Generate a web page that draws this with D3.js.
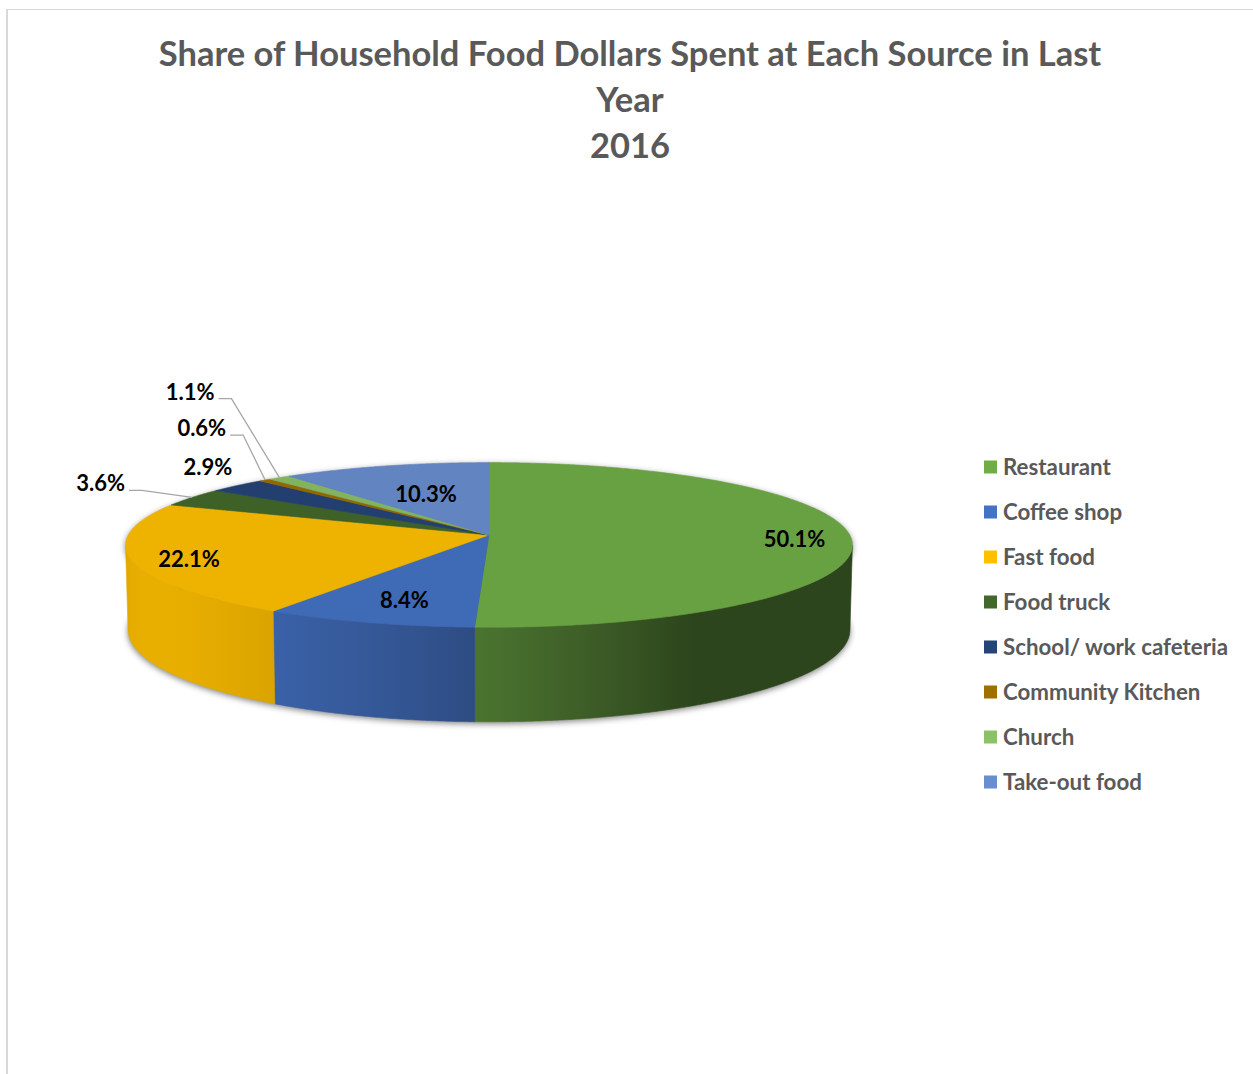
<!DOCTYPE html>
<html>
<head>
<meta charset="utf-8">
<script src="https://cdn.jsdelivr.net/npm/d3@7"></script>
<style>
  body { margin: 0; background: #ffffff; }
  svg { display: block; }
</style>
</head>
<body>
<svg id="chart" width="1253" height="1074"></svg>
<script>
// ---- Data -------------------------------------------------------------
const categories = [
  "Restaurant", "Coffee shop", "Fast food", "Food truck",
  "School/ work cafeteria", "Community Kitchen", "Church", "Take-out food"
];
const values = [50.1, 8.4, 22.1, 3.6, 2.9, 0.6, 1.1, 10.3];
const titleLines = [
  "Share of Household Food Dollars Spent at Each Source in Last",
  "Year",
  "2016"
];

// ---- Styling ----------------------------------------------------------
const palette = ["#70AD47", "#4472C4", "#FFC000", "#43682B",
                 "#264478", "#9E7000", "#8CC168", "#698ED0"];
const fontFamily = "Lato, 'Open Sans', sans-serif";
const textGrey = "#595959";

// Label placement: inside labels sit at a fraction of the radius,
// small slices get an outside label (offset from the rim point).
const insideRadius = { "Restaurant": 0.84, "Coffee shop": 0.74, "Fast food": 0.85, "Take-out food": 0.6 };
const outsideOffset = {
  "Food truck":             { dx: -67, dy: -6,  leader: true },
  "School/ work cafeteria": { dx: -5,  dy: -11, leader: false },
  "Community Kitchen":      { dx: -39, dy: -44, leader: true },
  "Church":                 { dx: -65, dy: -78, leader: true }
};

const W = 1253, H = 1074;
const svg = d3.select("#chart");
const defs = svg.append("defs");

// ---- 3D camera for the tilted pie --------------------------------------
const cam = {
  cx: 489, cy: 535,        // screen position of the pie centre (top face)
  f: 2915,                 // focal length in px (radius = 1)
  D: 8.08,                 // camera distance in radii
  tilt: 13 * Math.PI / 180,
  depth: 0.24              // thickness of the pie in radii
};
const sT = Math.sin(cam.tilt), cT = Math.cos(cam.tilt);

// theta: clockwise from the back (12 o'clock), r: radius fraction, y: height
function project(theta, r, y) {
  const x = r * Math.sin(theta);
  const z = -r * Math.cos(theta);
  const v = y * cT - z * sT;
  const w = cam.D - (y * sT + z * cT);
  return [cam.cx + cam.f * x / w, cam.cy - cam.f * v / w];
}

// Outer wall is visible where its normal faces the camera
const visLimit = Math.acos(-1 / (cam.D * cT));
const visLo = visLimit, visHi = 2 * Math.PI - visLimit;

const pie = d3.pie().sort(null).value(d => d.value)
  .startAngle(0).endAngle(2 * Math.PI);
const data = categories.map((c, i) => ({ name: c, value: values[i], color: palette[i] }));
const arcs = pie(data);

const topColor = c => { const k = 0.93, r = d3.rgb(c); return d3.rgb(r.r * k, r.g * k, r.b * k); };
const shade = th => 0.43 + 0.55 * Math.max(0, Math.cos(th - 240 * Math.PI / 180));
const scaleColor = (c, k) => { const r = d3.rgb(c); return d3.rgb(r.r * k, r.g * k, r.b * k).formatHex(); };

function sampleAngles(a0, a1) {
  const n = Math.max(2, Math.ceil((a1 - a0) / (0.4 * Math.PI / 180)));
  return d3.range(n + 1).map(i => a0 + (a1 - a0) * i / n);
}

const lineGen = d3.line();

// ---- Shadow under the pie ---------------------------------------------
const blur = defs.append("filter").attr("id", "pieShadow")
  .attr("x", "-10%").attr("y", "-20%").attr("width", "120%").attr("height", "140%");
blur.append("feGaussianBlur").attr("stdDeviation", 3);

const fullCircle = sampleAngles(0, 2 * Math.PI);
const shadowG = svg.append("g").attr("filter", "url(#pieShadow)")
  .attr("transform", "translate(0,2)");
shadowG.append("path")
  .attr("d", lineGen(fullCircle.map(t => project(t, 1, -cam.depth))) + "Z")
  .attr("fill", "rgba(0,0,0,0.5)");
shadowG.append("path")
  .attr("d", lineGen(fullCircle.map(t => project(t, 1, 0))) + "Z")
  .attr("fill", "rgba(0,0,0,0.5)");

// ---- Outer walls ------------------------------------------------------
const wallG = svg.append("g");
arcs.forEach((a, i) => {
  const lo = Math.max(a.startAngle, visLo), hi = Math.min(a.endAngle, visHi);
  if (hi <= lo) return;
  const base = topColor(a.data.color);
  const xLo = project(lo, 1, 0)[0], xHi = project(hi, 1, 0)[0];
  const grad = defs.append("linearGradient").attr("id", "wall" + i)
    .attr("gradientUnits", "userSpaceOnUse")
    .attr("x1", xLo).attr("x2", xHi).attr("y1", 0).attr("y2", 0);
  sampleAngles(lo, hi).filter((_, k, arr) => k % 5 === 0 || k === arr.length - 1).forEach(t => {
    const off = xHi === xLo ? 0 : (project(t, 1, 0)[0] - xLo) / (xHi - xLo);
    grad.append("stop").attr("offset", Math.min(1, Math.max(0, off)))
      .attr("stop-color", scaleColor(base, shade(t)));
  });
  const ts = sampleAngles(lo, hi);
  const pts = ts.map(t => project(t, 1, 0))
    .concat(ts.slice().reverse().map(t => project(t, 1, -cam.depth)));
  wallG.append("path")
    .attr("d", lineGen(pts) + "Z")
    .attr("fill", `url(#wall${i})`)
    .attr("stroke", `url(#wall${i})`).attr("stroke-width", 0.6);
});

// ---- Top faces --------------------------------------------------------
const topG = svg.append("g");
const apex = project(0, 0, 0);
arcs.forEach(a => {
  const pts = [apex].concat(sampleAngles(a.startAngle, a.endAngle).map(t => project(t, 1, 0)));
  const col = topColor(a.data.color).formatHex();
  topG.append("path")
    .attr("d", lineGen(pts) + "Z")
    .attr("fill", col).attr("stroke", col).attr("stroke-width", 0.6)
    .attr("stroke-linejoin", "round");
});

// ---- Data labels ------------------------------------------------------
const labelG = svg.append("g")
  .attr("font-family", fontFamily).attr("font-weight", 700)
  .attr("font-size", 22).attr("fill", "#000");
arcs.forEach(a => {
  const mid = (a.startAngle + a.endAngle) / 2;
  const txt = d3.format(".1f")(a.data.value) + "%";
  if (insideRadius[a.data.name] !== undefined) {
    const [x, y] = project(mid, insideRadius[a.data.name], 0);
    labelG.append("text").attr("x", x + 2).attr("y", y).attr("dy", "0.48em")
      .attr("text-anchor", "middle").text(txt);
  } else {
    const o = outsideOffset[a.data.name];
    const rim = project(mid, 1, 0);
    const tx = rim[0] + o.dx, ty = rim[1] + o.dy;   // right edge, baseline
    labelG.append("text").attr("x", tx).attr("y", ty)
      .attr("text-anchor", "end").text(txt);
    if (o.leader) {
      const sx = tx + 4, sy = ty - 1;
      labelG.append("path")
        .attr("d", lineGen([[sx, sy], [sx + 13, sy], rim]))
        .attr("fill", "none").attr("stroke", "#a6a6a6").attr("stroke-width", 1.3);
    }
  }
});

// ---- Legend -----------------------------------------------------------
const legendY = d3.scalePoint().domain(categories).range([467, 782]);
const legend = svg.append("g")
  .attr("font-family", fontFamily).attr("font-weight", 700)
  .attr("font-size", 22.3).attr("fill", textGrey);
categories.forEach((c, i) => {
  const y = legendY(c);
  legend.append("rect").attr("x", 984).attr("y", y - 6.5)
    .attr("width", 13).attr("height", 13).attr("fill", palette[i]);
  legend.append("text").attr("x", 1003).attr("y", y).attr("dy", "0.36em").text(c);
});

// ---- Title ------------------------------------------------------------
const title = svg.append("g")
  .attr("font-family", fontFamily).attr("font-weight", 700)
  .attr("font-size", 34.5).attr("fill", textGrey).attr("text-anchor", "middle");
titleLines.forEach((t, i) => {
  title.append("text").attr("x", 630).attr("y", 66 + i * 46).text(t);
});

// ---- Chart area border ------------------------------------------------
svg.append("line").attr("x1", 7).attr("x2", 7).attr("y1", 9).attr("y2", H)
  .attr("stroke", "#d9d9d9").attr("stroke-width", 2);
svg.append("line").attr("x1", 6).attr("x2", W).attr("y1", 9.5).attr("y2", 9.5)
  .attr("stroke", "#d9d9d9").attr("stroke-width", 1);
</script>
</body>
</html>
